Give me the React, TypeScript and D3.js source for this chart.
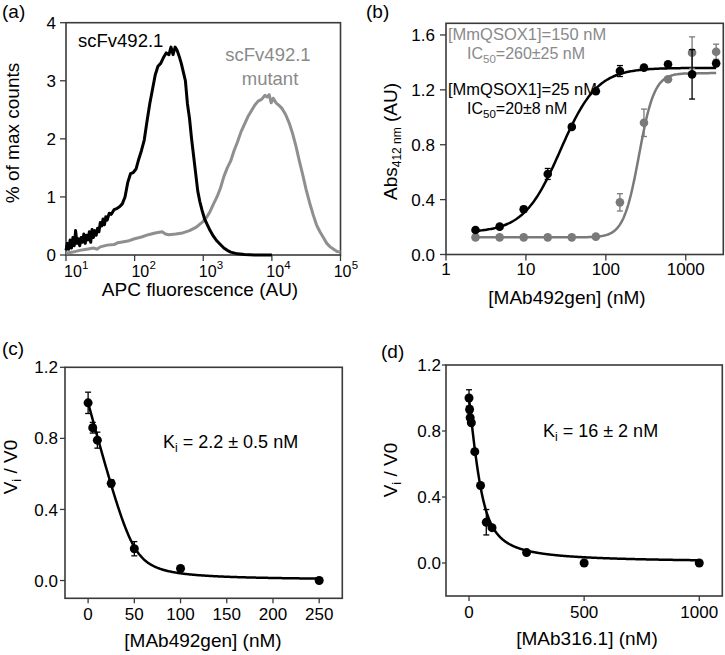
import React from 'react';
import * as d3 from 'd3';

const FONT = "'Liberation Sans', Arial, Helvetica, sans-serif";
const GRAY = '#8a8a8a';
const DARK = '#3a3a3a';

// ---------- Panel (a): flow cytometry histograms [log10(APC), % of max counts]
const flowBlack: [number, number][] = [
  [1.0, 0.08], [1.02, 0.2], [1.04, 0.1], [1.06, 0.26], [1.08, 0.12], [1.1, 0.3], [1.12, 0.16],
  [1.14, 0.42], [1.16, 0.2], [1.18, 0.28], [1.2, 0.16], [1.22, 0.3], [1.24, 0.22], [1.26, 0.36],
  [1.28, 0.2], [1.3, 0.34], [1.32, 0.26], [1.34, 0.4], [1.36, 0.22], [1.38, 0.44], [1.4, 0.3],
  [1.42, 0.42], [1.44, 0.34], [1.46, 0.46], [1.48, 0.4], [1.5, 0.56], [1.52, 0.5], [1.54, 0.62],
  [1.56, 0.52], [1.58, 0.66], [1.6, 0.6], [1.63, 0.72], [1.66, 0.7], [1.7, 0.78], [1.74, 0.8],
  [1.78, 0.83], [1.82, 0.88], [1.86, 1.0], [1.9, 1.25], [1.94, 1.4], [1.98, 1.42], [2.02, 1.48],
  [2.06, 1.65], [2.1, 1.8], [2.14, 1.98], [2.18, 2.3], [2.22, 2.6], [2.26, 2.85], [2.3, 3.1],
  [2.34, 3.25], [2.38, 3.3], [2.42, 3.4], [2.46, 3.48], [2.5, 3.45], [2.53, 3.58], [2.56, 3.45],
  [2.59, 3.58], [2.62, 3.52], [2.65, 3.42], [2.68, 3.3], [2.71, 3.15], [2.74, 3.0], [2.77, 2.6],
  [2.8, 2.35], [2.83, 2.0], [2.86, 1.7], [2.89, 1.4], [2.92, 1.1], [2.95, 0.92], [2.98, 0.78],
  [3.02, 0.62], [3.06, 0.52], [3.1, 0.42], [3.15, 0.32], [3.2, 0.24], [3.25, 0.18], [3.3, 0.12],
  [3.35, 0.08], [3.4, 0.05], [3.5, 0.02], [3.6, 0.01], [3.75, 0.0], [4.0, 0.0],
];
const flowGray: [number, number][] = [
  [1.0, 0.03], [1.1, 0.05], [1.2, 0.08], [1.3, 0.1], [1.4, 0.12], [1.45, 0.1], [1.5, 0.14],
  [1.6, 0.17], [1.7, 0.18], [1.75, 0.21], [1.8, 0.22], [1.9, 0.24], [2.0, 0.28], [2.1, 0.31],
  [2.2, 0.35], [2.3, 0.38], [2.4, 0.4], [2.45, 0.36], [2.5, 0.35], [2.6, 0.36], [2.7, 0.38],
  [2.8, 0.42], [2.9, 0.48], [3.0, 0.58], [3.05, 0.65], [3.1, 0.75], [3.15, 0.88], [3.2, 1.0],
  [3.25, 1.15], [3.3, 1.35], [3.35, 1.5], [3.4, 1.62], [3.45, 1.8], [3.5, 1.95], [3.55, 2.12],
  [3.6, 2.25], [3.65, 2.38], [3.7, 2.48], [3.75, 2.58], [3.8, 2.65], [3.85, 2.68], [3.9, 2.75],
  [3.93, 2.72], [3.96, 2.76], [3.99, 2.62], [4.02, 2.7], [4.06, 2.62], [4.1, 2.58], [4.15, 2.52],
  [4.2, 2.42], [4.25, 2.28], [4.3, 2.1], [4.35, 1.88], [4.4, 1.62], [4.45, 1.38], [4.5, 1.12],
  [4.55, 0.9], [4.6, 0.7], [4.65, 0.52], [4.7, 0.4], [4.75, 0.3], [4.8, 0.2], [4.85, 0.14],
  [4.9, 0.1], [4.95, 0.06], [5.0, 0.05],
];
const flowXExponents = [1, 2, 3, 4, 5];
const flowYTicks = [0, 1, 2, 3, 4];

// ---------- Panel (b): titration
const concB = [2.34, 4.69, 9.38, 18.75, 37.5, 75, 150, 300, 600, 1200, 2400];
const absBlack = [0.179, 0.203, 0.33, 0.587, 0.93, 1.19, 1.337, 1.362, 1.386, 1.313, 1.393];
const errBlack = [0, 0, 0.02, 0.04, 0, 0, 0.04, 0, 0, 0.18, 0];
const absGray = [0.125, 0.125, 0.125, 0.125, 0.125, 0.13, 0.38, 0.96, 1.277, 1.471, 1.478];
const errGray = [0, 0, 0, 0, 0, 0, 0.063, 0.1, 0, 0.115, 0.055];
const fitBlack = { bottom: 0.16, top: 1.36, ic50: 27, hill: 1.9 };
const fitGray = { bottom: 0.125, top: 1.322, ic50: 260, hill: 4.5 };
const bXTicks = [1, 10, 100, 1000];
const bYTicks = [0, 0.4, 0.8, 1.2, 1.6];

// ---------- Panel (c)
const concC = [0, 5, 10, 25, 50, 100, 250];
const vC = [1.0, 0.86, 0.79, 0.547, 0.179, 0.068, 0.0];
const errC = [0.06, 0.03, 0.045, 0.02, 0.04, 0, 0];
const morrC = { E: 50, Ki: 2.2 };
const cXTicks = [0, 50, 100, 150, 200, 250];

// ---------- Panel (d)
const concD = [0, 2.5, 5, 10, 25, 50, 75, 100, 250, 500, 1000];
const vD = [1.0, 0.93, 0.88, 0.85, 0.675, 0.47, 0.247, 0.214, 0.063, 0.0, 0.0];
const errD = [0.05, 0.02, 0, 0, 0, 0, 0.077, 0, 0, 0, 0];
const morrD = { E: 58, Ki: 16 };
const dXTicks = [0, 500, 1000];
const cdYTicks = [0, 0.4, 0.8, 1.2];

const hill = (p: { bottom: number; top: number; ic50: number; hill: number }, x: number) =>
  p.bottom + (p.top - p.bottom) / (1 + Math.pow(p.ic50 / x, p.hill));
const morrison = (p: { E: number; Ki: number }, I: number) => {
  const s = p.E + I + p.Ki;
  return 1 - (s - Math.sqrt(s * s - 4 * p.E * I)) / (2 * p.E);
};

const fmt1 = d3.format('.1f');

function Frame({ x0, x1, y0, y1 }: { x0: number; x1: number; y0: number; y1: number }) {
  return <rect x={x0} y={y0} width={x1 - x0} height={y1 - y0} fill="none" stroke={DARK} strokeWidth={1.6} />;
}

export default function App() {
  // ----- Panel a
  const ax = d3.scaleLinear().domain([1, 5]).range([66, 340.5]);
  const ay = d3.scaleLinear().domain([0, 4]).range([255, 22.7]);
  const aLine = d3.line<[number, number]>().x((d) => ax(d[0])).y((d) => ay(d[1]));

  // ----- Panel b
  const bx = d3.scaleLog().domain([1, 2950]).range([446, 723.3]);
  const by = d3.scaleLinear().domain([0, 1.685]).range([254.5, 23.3]);
  const lo = Math.log10(concB[0]);
  const hi = Math.log10(concB[concB.length - 1]);
  const bSamples = d3.range(0, 201).map((i) => Math.pow(10, lo + (i / 200) * (hi - lo)));
  const blackPath = d3.line<number>().x((d) => bx(d)).y((d) => by(hill(fitBlack, d)))(bSamples) || '';
  const grayPath = d3.line<number>().x((d) => bx(d)).y((d) => by(hill(fitGray, d)))(bSamples) || '';

  // ----- Panel c
  const cx = d3.scaleLinear().domain([-25, 275]).range([65, 342.3]);
  const cy = d3.scaleLinear().domain([-0.1, 1.2]).range([598.3, 367.3]);
  const cSamples = d3.range(0, 251, 1);
  const cPath = d3.line<number>().x((d) => cx(d)).y((d) => cy(morrison(morrC, d)))(cSamples) || '';

  // ----- Panel d
  const dx = d3.scaleLinear().domain([-100, 1100]).range([446, 722.3]);
  const dy = d3.scaleLinear().domain([-0.2, 1.2]).range([596, 365]);
  const dSamples = d3.range(0, 1001, 2);
  const dPath = d3.line<number>().x((d) => dx(d)).y((d) => dy(morrison(morrD, d)))(dSamples) || '';

  const tickFs = 17;
  const titleFs = 19;

  const errBars = (
    xs: number[], ys: number[], es: number[], sx: (v: number) => number, sy: (v: number) => number, color: string, key: string
  ) =>
    xs.map((xv, i) =>
      es[i] > 0 ? (
        <g key={key + i} stroke={color} strokeWidth={1.3}>
          <line x1={sx(xv)} x2={sx(xv)} y1={sy(ys[i] - es[i])} y2={sy(ys[i] + es[i])} />
          <line x1={sx(xv) - 3} x2={sx(xv) + 3} y1={sy(ys[i] - es[i])} y2={sy(ys[i] - es[i])} />
          <line x1={sx(xv) - 3} x2={sx(xv) + 3} y1={sy(ys[i] + es[i])} y2={sy(ys[i] + es[i])} />
        </g>
      ) : null
    );

  return (
    <svg
      width={725}
      height={655}
      viewBox="0 0 725 655"
      style={{ position: 'absolute', left: 0, top: 0, background: '#fff' }}
      fontFamily={FONT}
    >
      <rect x={0} y={0} width={725} height={655} fill="#fff" />

      {/* ================= Panel (a) ================= */}
      <text x={2} y={18} fontSize={19}>(a)</text>
      <Frame x0={66} x1={340.5} y0={22.7} y1={255} />
      {flowYTicks.map((t) => (
        <g key={'ay' + t}>
          <line x1={60} x2={66} y1={ay(t)} y2={ay(t)} stroke={DARK} strokeWidth={1.3} />
          <text x={56} y={ay(t)} dy="0.36em" fontSize={tickFs} textAnchor="end">{t}</text>
        </g>
      ))}
      {flowXExponents.map((e) => {
        const x0 = ax(e) - 2 - (e - 1) * 1.2;
        return (
          <g key={'ax' + e}>
            <line x1={ax(e)} x2={ax(e)} y1={255} y2={261} stroke={DARK} strokeWidth={1.3} />
            <text x={x0} y={277} fontSize={16}>10</text>
            <text x={x0 + 18} y={269} fontSize={11.5}>{e}</text>
          </g>
        );
      })}
      <path d={aLine(flowGray) || ''} fill="none" stroke="#8f8f8f" strokeWidth={3} strokeLinejoin="round" />
      <path d={aLine(flowBlack) || ''} fill="none" stroke="#000" strokeWidth={3} strokeLinejoin="round" />
      <text x={78} y={47} fontSize={18.5}>scFv492.1</text>
      <text x={268} y={61} fontSize={18.5} fill={GRAY} textAnchor="middle">scFv492.1</text>
      <text x={270} y={85} fontSize={18.5} fill={GRAY} textAnchor="middle">mutant</text>
      <text x={200} y={296} fontSize={titleFs} textAnchor="middle">APC fluorescence (AU)</text>
      <text transform="translate(19,133) rotate(-90)" fontSize={titleFs} textAnchor="middle">% of max counts</text>

      {/* ================= Panel (b) ================= */}
      <text x={366} y={18} fontSize={19}>(b)</text>
      <Frame x0={446} x1={723.3} y0={23.3} y1={254.5} />
      {bYTicks.map((t) => (
        <g key={'by' + t}>
          <line x1={440} x2={446} y1={by(t)} y2={by(t)} stroke={DARK} strokeWidth={1.3} />
          <text x={435} y={by(t)} dy="0.36em" fontSize={tickFs} textAnchor="end">{fmt1(t)}</text>
        </g>
      ))}
      {bXTicks.map((t) => (
        <g key={'bx' + t}>
          <line x1={bx(t)} x2={bx(t)} y1={254.5} y2={260.5} stroke={DARK} strokeWidth={1.3} />
          <text x={bx(t)} y={275} fontSize={tickFs} textAnchor="middle">{t}</text>
        </g>
      ))}
      <path d={grayPath} fill="none" stroke="#7a7a7a" strokeWidth={2.5} />
      <path d={blackPath} fill="none" stroke="#000" strokeWidth={2.5} />
      {errBars(concB, absGray, errGray, bx, by, '#7a7a7a', 'eg')}
      {concB.map((c, i) => (
        <circle key={'pg' + i} cx={bx(c)} cy={by(absGray[i])} r={4.3} fill="#7a7a7a" />
      ))}
      {errBars(concB, absBlack, errBlack, bx, by, '#000', 'eb')}
      {concB.map((c, i) => (
        <circle key={'pb' + i} cx={bx(c)} cy={by(absBlack[i])} r={4.3} fill="#000" />
      ))}
      <text x={448} y={39.5} fontSize={16.5} fill={GRAY}>[MmQSOX1]=150 nM</text>
      <text x={467} y={58.5} fontSize={16} fill={GRAY}>
        IC<tspan fontSize={11.5} dy={4}>50</tspan><tspan dy={-4}>=260±25 nM</tspan>
      </text>
      <text x={448} y={95} fontSize={16.5}>[MmQSOX1]=25 nM</text>
      <text x={467} y={114} fontSize={16}>
        IC<tspan fontSize={11.5} dy={4}>50</tspan><tspan dy={-4}>=20±8 nM</tspan>
      </text>
      <text x={567} y={304} fontSize={titleFs} textAnchor="middle">[MAb492gen] (nM)</text>
      <text transform="translate(397,141.5) rotate(-90)" fontSize={titleFs} textAnchor="middle">
        Abs<tspan fontSize={12} dy={4}>412 nm</tspan><tspan dy={-4}> (AU)</tspan>
      </text>

      {/* ================= Panel (c) ================= */}
      <text x={2} y={355} fontSize={19}>(c)</text>
      <Frame x0={65} x1={342.3} y0={367.3} y1={598.3} />
      {cdYTicks.map((t) => (
        <g key={'cy' + t}>
          <line x1={60} x2={65} y1={cy(t)} y2={cy(t)} stroke={DARK} strokeWidth={1.3} />
          <text x={58} y={cy(t)} dy="0.36em" fontSize={tickFs} textAnchor="end">{fmt1(t)}</text>
        </g>
      ))}
      {cXTicks.map((t) => (
        <g key={'cx' + t}>
          <line x1={cx(t)} x2={cx(t)} y1={598.3} y2={603.3} stroke={DARK} strokeWidth={1.3} />
          <text x={cx(t)} y={620} fontSize={tickFs} textAnchor="middle">{t}</text>
        </g>
      ))}
      <path d={cPath} fill="none" stroke="#000" strokeWidth={2.5} />
      {errBars(concC, vC, errC, cx, cy, '#000', 'ec')}
      {concC.map((c, i) => (
        <circle key={'pc' + i} cx={cx(c)} cy={cy(vC[i])} r={4.5} fill="#000" />
      ))}
      <text x={163} y={448} fontSize={18}>
        K<tspan fontSize={12} dy={4}>i</tspan><tspan dy={-4}> = 2.2 ± 0.5 nM</tspan>
      </text>
      <text x={203} y={647} fontSize={titleFs} textAnchor="middle">[MAb492gen] (nM)</text>
      <text transform="translate(17,467) rotate(-90)" fontSize={titleFs} textAnchor="middle">
        V<tspan fontSize={13} dy={4}>i</tspan><tspan dy={-4}> / V0</tspan>
      </text>

      {/* ================= Panel (d) ================= */}
      <text x={381} y={358} fontSize={19}>(d)</text>
      <Frame x0={446} x1={722.3} y0={365} y1={596} />
      {cdYTicks.map((t) => (
        <g key={'dy' + t}>
          <line x1={442} x2={446} y1={dy(t)} y2={dy(t)} stroke={DARK} strokeWidth={1.3} />
          <text x={441} y={dy(t)} dy="0.36em" fontSize={tickFs} textAnchor="end">{fmt1(t)}</text>
        </g>
      ))}
      {dXTicks.map((t) => (
        <g key={'dx' + t}>
          <line x1={dx(t)} x2={dx(t)} y1={596} y2={601} stroke={DARK} strokeWidth={1.3} />
          <text x={dx(t)} y={618} fontSize={tickFs} textAnchor="middle">{t}</text>
        </g>
      ))}
      <path d={dPath} fill="none" stroke="#000" strokeWidth={2.5} />
      {errBars(concD, vD, errD, dx, dy, '#000', 'ed')}
      {concD.map((c, i) => (
        <circle key={'pd' + i} cx={dx(c)} cy={dy(vD[i])} r={4.5} fill="#000" />
      ))}
      <text x={543} y={437} fontSize={18}>
        K<tspan fontSize={12} dy={4}>i</tspan><tspan dy={-4}> = 16 ± 2 nM</tspan>
      </text>
      <text x={587} y={645} fontSize={titleFs} textAnchor="middle">[MAb316.1] (nM)</text>
      <text transform="translate(397,470) rotate(-90)" fontSize={titleFs} textAnchor="middle">
        V<tspan fontSize={13} dy={4}>i</tspan><tspan dy={-4}> / V0</tspan>
      </text>
    </svg>
  );
}
